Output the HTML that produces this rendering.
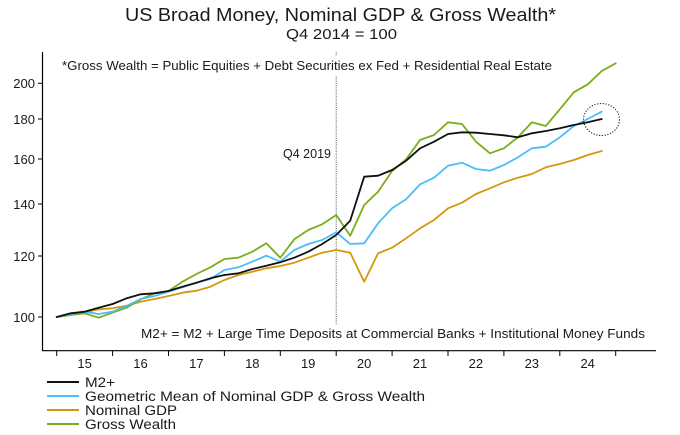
<!DOCTYPE html>
<html>
<head>
<meta charset="utf-8">
<style>
html,body{margin:0;padding:0;background:#fff;}
svg{display:block;}
text{font-family:"Liberation Sans",sans-serif;fill:#1a1a1a;}
</style>
</head>
<body>
<svg width="680" height="435" viewBox="0 0 680 435" xmlns="http://www.w3.org/2000/svg">
<rect width="680" height="435" fill="#fff"/>
<!-- Titles -->
<text x="340.5" y="21" font-size="18" text-anchor="middle" textLength="431" lengthAdjust="spacingAndGlyphs">US Broad Money, Nominal GDP &amp; Gross Wealth*</text>
<text x="341.5" y="39" font-size="14.5" text-anchor="middle" textLength="111" lengthAdjust="spacingAndGlyphs">Q4 2014 = 100</text>

<!-- Dotted vertical line -->
<line x1="336.2" y1="52" x2="336.2" y2="325" stroke="#555" stroke-width="1" stroke-dasharray="1,1.2"/>
<rect x="58" y="56" width="498" height="20" fill="#fff"/>
<text x="62" y="70" font-size="12.5" textLength="490" lengthAdjust="spacingAndGlyphs">*Gross Wealth = Public Equities + Debt Securities ex Fed + Residential Real Estate</text>
<text x="283" y="158" font-size="12.5" textLength="48" lengthAdjust="spacingAndGlyphs">Q4 2019</text>
<text x="141" y="338" font-size="12.5" textLength="504" lengthAdjust="spacingAndGlyphs">M2+ = M2 + Large Time Deposits at Commercial Banks + Institutional Money Funds</text>

<!-- Axes -->
<line x1="42.5" y1="52" x2="42.5" y2="351" stroke="#000" stroke-width="1.2"/>
<line x1="42" y1="350.7" x2="656" y2="350.7" stroke="#000" stroke-width="1.2"/>
<!-- Y ticks -->
<g stroke="#000" stroke-width="1">
<line x1="38" y1="83.3" x2="42.5" y2="83.3"/>
<line x1="38" y1="119" x2="42.5" y2="119"/>
<line x1="38" y1="159" x2="42.5" y2="159"/>
<line x1="38" y1="204" x2="42.5" y2="204"/>
<line x1="38" y1="256" x2="42.5" y2="256"/>
<line x1="38" y1="317" x2="42.5" y2="317"/>
</g>
<g font-size="13" text-anchor="end">
<text x="35" y="88">200</text>
<text x="35" y="124">180</text>
<text x="35" y="164">160</text>
<text x="35" y="209">140</text>
<text x="35" y="261">120</text>
<text x="35" y="322">100</text>
</g>
<!-- X ticks -->
<g stroke="#000" stroke-width="1">
<line x1="56.7" y1="351" x2="56.7" y2="356"/>
<line x1="112.6" y1="351" x2="112.6" y2="356"/>
<line x1="168.5" y1="351" x2="168.5" y2="356"/>
<line x1="224.4" y1="351" x2="224.4" y2="356"/>
<line x1="280.3" y1="351" x2="280.3" y2="356"/>
<line x1="336.2" y1="351" x2="336.2" y2="356"/>
<line x1="392.1" y1="351" x2="392.1" y2="356"/>
<line x1="448" y1="351" x2="448" y2="356"/>
<line x1="503.9" y1="351" x2="503.9" y2="356"/>
<line x1="559.8" y1="351" x2="559.8" y2="356"/>
<line x1="615.7" y1="351" x2="615.7" y2="356"/>
</g>
<g font-size="13" text-anchor="middle">
<text x="84.6" y="368">15</text>
<text x="140.5" y="368">16</text>
<text x="196.4" y="368">17</text>
<text x="252.3" y="368">18</text>
<text x="308.2" y="368">19</text>
<text x="364.1" y="368">20</text>
<text x="420" y="368">21</text>
<text x="475.9" y="368">22</text>
<text x="531.8" y="368">23</text>
<text x="587.7" y="368">24</text>
</g>

<!-- Series -->
<g fill="none" stroke-width="1.8" stroke-linejoin="round" stroke-linecap="round">
<!-- Nominal GDP -->
<polyline stroke="#d4980f" points="56.7,317 70.7,315 84.6,312.3 98.6,309.3 112.6,308.3 126.6,305.7 140.6,301.7 154.5,299 168.5,296 182.5,292.7 196.5,290.7 210.4,286.7 224.4,280 238.4,275 252.4,271.7 266.3,268.3 280.3,266 294.3,262.7 308.3,257.7 322.2,252.7 336.2,250 350.2,252.7 364.2,281.7 378.1,253.3 392.1,247.7 406.1,238.3 420.1,228.3 434,220 448,208.3 462,202.7 476,194 489.9,188.3 503.9,182.3 517.9,177.7 531.9,174 545.8,167.3 559.8,164 573.8,160 587.8,155 601.7,151"/>
<!-- Gross Wealth -->
<polyline stroke="#7aad1c" points="56.7,317 70.7,315 84.6,313.3 98.6,317.7 112.6,312.7 126.6,307.7 140.6,299.3 154.5,293.3 168.5,291 182.5,281.7 196.5,274 210.4,267.3 224.4,259 238.4,257.7 252.4,251.7 266.3,243.3 280.3,257.7 294.3,239.3 308.3,230 322.2,224.3 336.2,215 350.2,235.7 364.2,205 378.1,191.7 392.1,171 406.1,159.3 420.1,140 434,135 448,122.3 462,124 476,141.7 489.9,153.3 503.9,148.3 517.9,137.3 531.9,122.3 545.8,126 559.8,109.3 573.8,92.3 587.8,84.3 601.7,71 615.7,63.3"/>
<!-- Geometric mean -->
<polyline stroke="#4cbdfb" points="56.7,317 70.7,314.3 84.6,311.7 98.6,314 112.6,311.7 126.6,306 140.6,299 154.5,296 168.5,291.7 182.5,287.3 196.5,282.7 210.4,279 224.4,270 238.4,267.3 252.4,261.7 266.3,255.7 280.3,261.7 294.3,250 308.3,244 322.2,240 336.2,232.3 350.2,244 364.2,243.3 378.1,223.3 392.1,208.3 406.1,199.3 420.1,184.3 434,177.7 448,165.7 462,162.7 476,169 489.9,170.7 503.9,165 517.9,157.3 531.9,148.3 545.8,146.7 559.8,137.3 573.8,126 587.8,119 601.7,111.7"/>
<!-- M2+ -->
<polyline stroke="#111" points="56.7,317 70.7,313.3 84.6,311.7 98.6,307.7 112.6,304 126.6,298.3 140.6,294.3 154.5,293.3 168.5,291 182.5,286.7 196.5,282.7 210.4,278.3 224.4,275 238.4,273.3 252.4,269 266.3,265.7 280.3,262.3 294.3,257.7 308.3,251.7 322.2,244 336.2,235 350.2,220.7 364.2,176.7 378.1,175.7 392.1,170 406.1,160.7 420.1,148.3 434,141.7 448,134 462,132.3 476,132.7 489.9,134 503.9,135.3 517.9,137.3 531.9,133.3 545.8,131 559.8,128.3 573.8,125 587.8,122.3 601.7,119"/>
</g>

<!-- Dotted ellipse -->
<ellipse cx="601.5" cy="119.5" rx="18" ry="16" fill="none" stroke="#222" stroke-width="1.1" stroke-dasharray="1.2,1.6"/>

<!-- Legend -->
<g stroke-width="2">
<line x1="47" y1="382" x2="79" y2="382" stroke="#111"/>
<line x1="47" y1="396" x2="79" y2="396" stroke="#4cbdfb"/>
<line x1="47" y1="410" x2="79" y2="410" stroke="#d4980f"/>
<line x1="47" y1="424" x2="79" y2="424" stroke="#7aad1c"/>
</g>
<g font-size="13.5">
<text x="85" y="387" textLength="30" lengthAdjust="spacingAndGlyphs">M2+</text>
<text x="85" y="401" textLength="340" lengthAdjust="spacingAndGlyphs">Geometric Mean of Nominal GDP &amp; Gross Wealth</text>
<text x="85" y="415" textLength="92" lengthAdjust="spacingAndGlyphs">Nominal GDP</text>
<text x="85" y="429" textLength="91" lengthAdjust="spacingAndGlyphs">Gross Wealth</text>
</g>
</svg>
</body>
</html>
